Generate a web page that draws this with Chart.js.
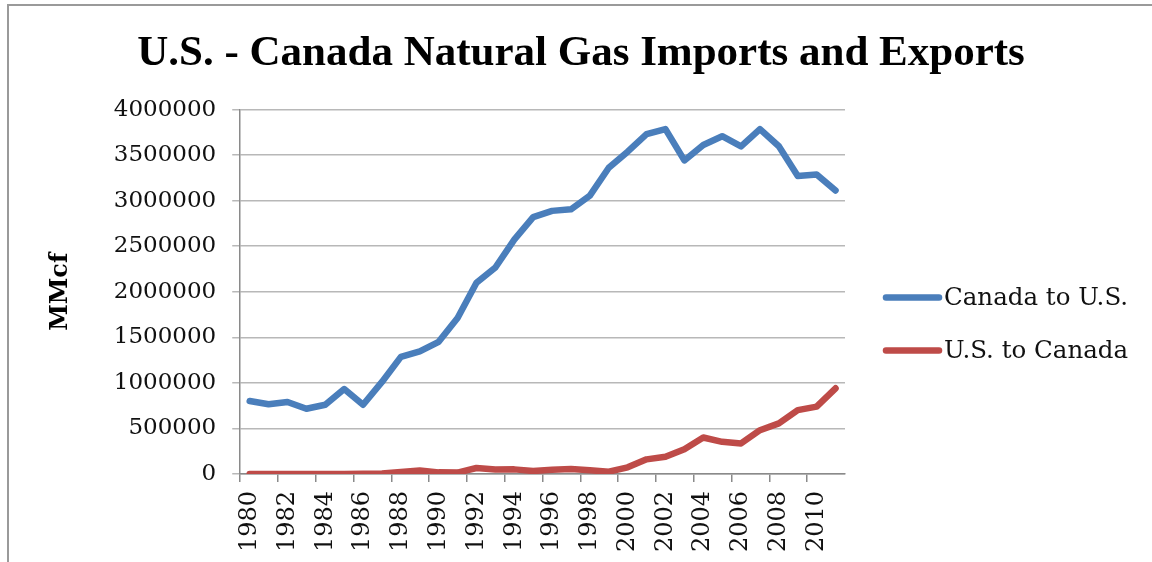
<!DOCTYPE html>
<html>
<head>
<meta charset="utf-8">
<script src="https://cdn.jsdelivr.net/npm/chart.js@4.4.1/dist/chart.umd.min.js"></script>
<style>
  html, body { margin: 0; padding: 0; background: #fff; }
  #wrap { position: relative; width: 1152px; height: 562px; overflow: hidden; }
  #frame { position: absolute; left: 7px; top: 4px; width: 1200px; height: 600px;
           border-left: 2px solid #9a9a9a; border-top: 2px solid #9a9a9a; }
  #c { position: absolute; left: 0; top: 0; }
</style>
</head>
<body>
<div id="wrap">
  <div id="frame"></div>
  <canvas id="c" width="1152" height="562"></canvas>
</div>
<script>
const years = ['1980','1981','1982','1983','1984','1985','1986','1987','1988','1989',
  '1990','1991','1992','1993','1994','1995','1996','1997','1998','1999',
  '2000','2001','2002','2003','2004','2005','2006','2007','2008','2009','2010','2011'];

const canadaToUS = [800000, 765000, 790000, 715000, 760000, 932000, 760000, 1010000, 1285000, 1345000,
  1450000, 1712000, 2098000, 2266000, 2572000, 2820000, 2888000, 2905000, 3055000, 3362000,
  3538000, 3730000, 3786000, 3442000, 3612000, 3708000, 3596000, 3785000, 3598000, 3272000, 3287000, 3112000];

const usToCanada = [0, 0, 0, 0, 0, 0, 3000, 5000, 20000, 38000,
  17000, 15000, 65000, 48000, 50000, 32000, 45000, 55000, 40000, 25000,
  72000, 160000, 189000, 272000, 400000, 352000, 335000, 480000, 555000, 701000, 739000, 940000];

const seriesNames = ['Canada to U.S.', 'U.S. to Canada'];
const yTicks = { min: 0, max: 4000000, step: 500000 };
const chartTitle = 'U.S. - Canada Natural Gas Imports and Exports';
const yAxisTitle = 'MMcf';

const BLUE = '#4a7ebb';
const RED = '#be4b48';
const GRID = '#b8b8b8';
const serif = "'DejaVu Serif', serif";

// Legend drawn in the space reserved on the right of the plot
const sideLegend = {
  id: 'sideLegend',
  afterDraw(chart) {
    const { ctx, chartArea } = chart;
    ctx.save();
    chart.data.datasets.forEach((ds, i) => {
      const y = chartArea.top + 188 + i * 53;
      const x0 = chartArea.right + 41;
      ctx.strokeStyle = ds.borderColor;
      ctx.lineWidth = 6.5;
      ctx.lineCap = 'round';
      ctx.beginPath();
      ctx.moveTo(x0, y);
      ctx.lineTo(x0 + 53, y);
      ctx.stroke();
      ctx.fillStyle = '#111';
      ctx.font = "24.5px 'DejaVu Serif', serif";
      ctx.textBaseline = 'middle';
      ctx.textAlign = 'left';
      ctx.fillText(ds.label, x0 + 58, y + 1);
    });
    ctx.restore();
  }
};

new Chart(document.getElementById('c'), {
  type: 'line',
  data: {
    labels: years,
    datasets: [
      { label: seriesNames[0], data: canadaToUS, borderColor: BLUE, backgroundColor: BLUE,
        borderWidth: 6.5, pointRadius: 0, tension: 0, borderJoinStyle: 'round', borderCapStyle: 'round' },
      { label: seriesNames[1], data: usToCanada, borderColor: RED, backgroundColor: RED,
        borderWidth: 6.5, pointRadius: 0, tension: 0, borderJoinStyle: 'round', borderCapStyle: 'round' }
    ]
  },
  plugins: [sideLegend],
  options: {
    responsive: false,
    animation: false,
    layout: { padding: { left: 30, right: 20, top: 0, bottom: 1 } },
    plugins: {
      title: {
        display: true, text: chartTitle, color: '#000',
        font: { family: "'Liberation Serif', serif", size: 43, weight: 'bold' },
        padding: { top: 28, bottom: 30 }
      },
      legend: { display: false },
      tooltip: { enabled: false }
    },
    scales: {
      x: {
        offset: true,
        grid: {
          offset: true, drawOnChartArea: false, tickLength: 8, lineWidth: 1.5,
          color: (ctx) => (ctx.index % 2 === 0 ? '#8a8a8a' : 'rgba(0,0,0,0)')
        },
        border: { color: '#8a8a8a', width: 1.5 },
        ticks: {
          autoSkip: false, maxRotation: 90, minRotation: 90, padding: 9, color: '#111',
          font: { family: serif, size: 24 },
          callback: function (v, i) { return i % 2 === 0 ? this.getLabelForValue(v) : ''; }
        }
      },
      y: {
        min: yTicks.min, max: yTicks.max,
        ticks: { stepSize: yTicks.step, padding: 16, color: '#111', font: { family: serif, size: 23 },
          callback: (v) => String(v) },
        grid: { color: GRID, lineWidth: 1.5, tickLength: 8 },
        border: { color: '#8a8a8a', width: 1.5 },
        title: {
          display: true, text: yAxisTitle, color: '#000',
          font: { family: serif, size: 24, weight: 'bold' },
          padding: { top: 16, bottom: 23 }
        }
      },
      legendSpace: {
        position: 'right', display: true, min: 0, max: 1,
        grid: { display: false }, border: { display: false }, ticks: { display: false },
        afterFit: (scale) => { scale.width = 287; }
      }
    }
  }
});
</script>
</body>
</html>
